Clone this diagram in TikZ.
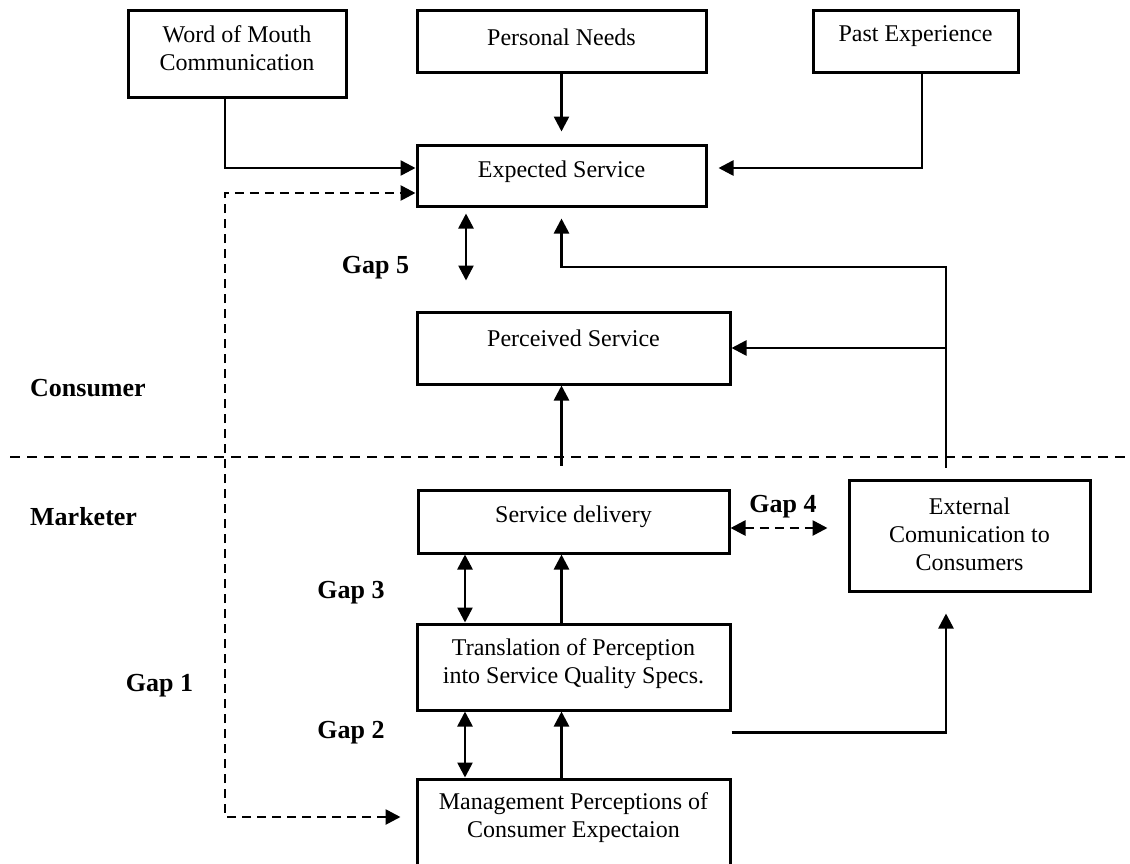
\documentclass[tikz,border=0pt]{standalone}
\usepackage{fontspec}
\setmainfont{Liberation Serif}
\usetikzlibrary{arrows.meta,calc}
\begin{document}
\begin{tikzpicture}[x=1pt,y=-1pt,
  box/.style={draw,line width=3pt,inner sep=0pt},
  txt/.style={inner sep=0pt,align=center,font=\fontsize{24}{28}\selectfont},
  lbl/.style={inner sep=0pt,font=\fontsize{26}{30}\selectfont\bfseries},
  ln/.style={line width=2.6pt},
  arr/.style={ln,-{Triangle[length=15pt,width=15pt]}},
  arrb/.style={ln,{Triangle[length=15pt,width=15pt]}-{Triangle[length=15pt,width=15pt]}},
  dsh/.style={line width=2.7pt,dash pattern=on 9pt off 6pt},
  dshh/.style={line width=2.7pt,dash pattern=on 10pt off 7pt}]
\useasboundingbox (0,0) rectangle (1130,863);
\clip (0,0) rectangle (1130,863);
\fill[white] (0,0) rectangle (1130,863);
% boxes
\node[box,minimum width=218pt,minimum height=87pt] (wom) at (237,53.5) {};
\node[box,minimum width=289pt,minimum height=62pt] (pn) at (561.5,41) {};
\node[box,minimum width=205pt,minimum height=62pt] (pe) at (915.5,41) {};
\node[box,minimum width=289pt,minimum height=61pt] (es) at (561.5,175.5) {};
\node[box,minimum width=313pt,minimum height=72pt] (ps) at (573.5,348) {};
\node[box,minimum width=311pt,minimum height=63pt] (sd) at (573.5,521.5) {};
\node[box,minimum width=313pt,minimum height=86pt] (tr) at (573.5,667) {};
\node[box,minimum width=313pt,minimum height=111pt] (mg) at (573.5,834.5) {};
\node[box,minimum width=241pt,minimum height=111pt] (ex) at (969.5,535.5) {};
% texts
\node[txt] (womt) at (237,48) {Word of Mouth\\Communication};
\node[txt] (pnt) at (561.5,37) {Personal Needs};
\node[txt] (pet) at (915.5,36) {Past Experience};
\node[txt] (est) at (561.5,172) {Expected Service};
\node[txt] (pst) at (573.5,338) {Perceived Service};
\node[txt] (sdt) at (573.5,517) {Service delivery};
\node[txt] (trt) at (573.5,663.5) {Translation of Perception\\into Service Quality Specs.};
\node[txt] (mgt) at (573.5,817.5) {Management Perceptions of\\Consumer Expectaion};
\node[txt] (ext) at (969.5,534) {External\\Comunication to\\Consumers};
% labels
\node[lbl] (gap5) at (375.5,268) {Gap 5};
\node[lbl,anchor=west] (cons) at (30,388) {Consumer};
\node[lbl,anchor=west] (mark) at (30,517) {Marketer};
\node[lbl] (gap4) at (783,507) {Gap 4};
\node[lbl] (gap3) at (351,593) {Gap 3};
\node[lbl] (gap1) at (159.5,686) {Gap 1};
\node[lbl] (gap2) at (351,733) {Gap 2};
% coordinates
\coordinate (hl) at (10,457);
\coordinate (hr) at (1135,457);
\coordinate (g1top) at (225,193);
\coordinate (g1bot) at (225,817);
\coordinate (loopL) at (561.5,267);
% divider
\draw[dshh] (hl) -- (hr);
% connectors
\draw[arr] ([xshift=-12pt]wom.south) |- ([yshift=7.5pt]es.west);
\draw[arr,shorten >=12pt] (pn.south) -- (pn.south |- es.north);
\draw[arr,shorten >=11pt] ([xshift=6.5pt]pe.south) |- ([yshift=7.5pt]es.east);
\draw[dsh,{Triangle[length=15pt,width=15pt]}-{Triangle[length=15pt,width=15pt]},shorten <=15pt]
  (mg.west |- g1bot) -- (g1bot) -- (g1top) -- (es.west |- g1top);
\draw[arrb,shorten <=6pt,shorten >=30pt] ([xshift=-95.5pt]es.south) -- ([xshift=-95.5pt]es.south |- ps.north);
\draw[arr,shorten <=11pt,shorten >=11pt] ([xshift=-23.5pt]ex.north) |- (loopL) -- (es.south);
\draw[arr] ([xshift=-23.5pt]ex.north |- ps.east) -- (ps.east);
\draw[arr,shorten <=23pt] ([xshift=-12pt]sd.north) -- ([xshift=-12pt]ps.south);
\draw[dsh,{Triangle[length=15pt,width=15pt]}-{Triangle[length=15pt,width=15pt]},shorten >=20pt]
  ([yshift=-6.5pt]sd.east) -- ([yshift=-6.5pt]sd.east -| ex.west);
\draw[arrb] ([xshift=-108.5pt]sd.south) -- ([xshift=-108.5pt]tr.north);
\draw[arr] ([xshift=-12pt]tr.north) -- ([xshift=-12pt]sd.south);
\draw[arrb] ([xshift=-108.5pt]tr.south) -- ([xshift=-108.5pt]mg.north);
\draw[arr] ([xshift=-12pt]mg.north) -- ([xshift=-12pt]tr.south);
\draw[arr,shorten >=21pt] ([yshift=-21pt]tr.south east) -| ([xshift=-23.5pt]ex.south);
\end{tikzpicture}
\end{document}
